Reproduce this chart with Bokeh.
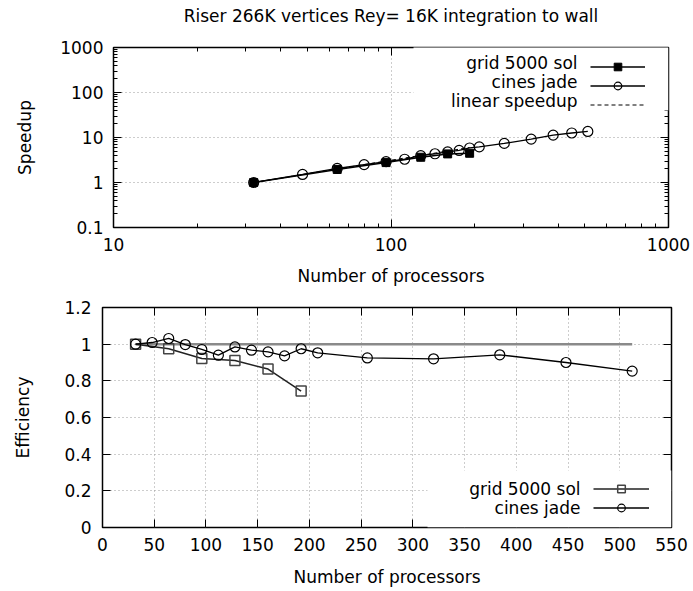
from bokeh.plotting import figure
from bokeh.layouts import column
from bokeh.models import (LogAxis, LinearAxis, FixedTicker, CustomJSTickFormatter,
                          Legend, LegendItem, Label, BoxAnnotation, Range1d, Title)
from bokeh.embed import file_html
from bokeh.resources import INLINE

FONT = "DejaVu Sans"
FS = "17px"

# ---------------- data ----------------
title_text = "Riser 266K vertices Rey= 16K integration to wall"
x_label = "Number of processors"
speedup_label = "Speedup"
eff_label = "Efficiency"

grid_procs = [32, 64, 96, 128, 160, 192]
grid_speedup = [1.0, 1.95, 2.77, 3.64, 4.32, 4.46]
grid_eff = [1.0, 0.975, 0.922, 0.911, 0.864, 0.744]

jade_procs = [32, 48, 64, 80, 96, 112, 128, 144, 160, 176, 192, 208, 256, 320, 384, 448, 512]
jade_speedup = [1.0, 1.51, 2.06, 2.50, 2.91, 3.29, 3.94, 4.35, 4.79, 5.15, 5.85, 6.20,
                7.40, 9.20, 11.30, 12.60, 13.65]
jade_eff = [1.0, 1.009, 1.031, 0.998, 0.971, 0.94, 0.985, 0.967, 0.958, 0.936, 0.975,
            0.953, 0.925, 0.92, 0.942, 0.90, 0.853]

linear_procs = [32, 192]
linear_speedup = [1, 6]
ideal_procs = [32, 512]
ideal_eff = [1, 1]

legend_names = ["grid 5000 sol", "cines jade", "linear speedup"]

speedup_xticks = [10, 100, 1000]
speedup_yticks = [0.1, 1, 10, 100, 1000]
eff_xticks = [0, 50, 100, 150, 200, 250, 300, 350, 400, 450, 500, 550]
eff_yticks = [0, 0.2, 0.4, 0.6, 0.8, 1.0, 1.2]


def log_minors(majors):
    out = []
    for m in majors[:-1]:
        for k in range(2, 10):
            out.append(m * k)
    return out


FMT = "return String(Math.round(tick*1000)/1000);"


def style_axis(ax, ticks, minor, labels=True):
    ax.ticker = FixedTicker(ticks=ticks, minor_ticks=minor)
    ax.formatter = CustomJSTickFormatter(code=FMT)
    ax.axis_line_color = None
    ax.major_tick_in = 8
    ax.major_tick_out = 0
    ax.minor_tick_in = 4
    ax.minor_tick_out = 0
    ax.major_tick_line_color = "black"
    ax.minor_tick_line_color = "black"
    ax.major_tick_line_width = 1
    ax.minor_tick_line_width = 1
    ax.major_label_text_font = FONT
    ax.axis_label_text_font = FONT
    ax.axis_label_text_font_size = FS
    ax.axis_label_text_font_style = "normal"
    ax.axis_label_text_color = "black"
    if labels:
        ax.major_label_text_font_size = FS
        ax.major_label_text_color = "black"
    else:
        ax.major_label_text_font_size = "1px"
        ax.major_label_text_color = None
        ax.major_label_standoff = 0


def style_fig(p):
    p.outline_line_color = "black"
    p.outline_line_width = 1.5
    p.background_fill_color = "white"
    p.border_fill_color = "white"
    for g in (p.xgrid[0], p.ygrid[0]):
        g.grid_line_color = "#9a9a9a"
        g.grid_line_dash = "1 3"
        g.grid_line_width = 1


# ---------------- speedup (log-log) ----------------
# column() aligns plot frames, so both plots share borders; p1 is shifted by a margin
p1 = figure(width=679, height=292, x_axis_type="log", y_axis_type="log",
            x_range=Range1d(10, 1000), y_range=Range1d(0.1, 1000),
            output_backend="svg", toolbar_location=None,
            min_border_left=102, min_border_right=22, min_border_top=43, min_border_bottom=65)
p1.margin = (0, 0, 0, 11)

style_axis(p1.xaxis[0], speedup_xticks, log_minors(speedup_xticks))
style_axis(p1.yaxis[0], speedup_yticks, log_minors(speedup_yticks))
p1.xaxis[0].axis_label = x_label
p1.yaxis[0].axis_label = speedup_label
p1.xaxis[0].major_label_standoff = 10
p1.yaxis[0].major_label_standoff = 10
p1.xaxis[0].axis_label_standoff = 12
p1.yaxis[0].axis_label_standoff = 22
ax_r = LogAxis()
style_axis(ax_r, speedup_yticks, log_minors(speedup_yticks), labels=False)
p1.add_layout(ax_r, "right")
ax_t = LogAxis()
style_axis(ax_t, speedup_xticks, log_minors(speedup_xticks), labels=False)
p1.add_layout(ax_t, "above")
style_fig(p1)

# trailing empty line lifts the title towards the top edge
p1.add_layout(Title(text=title_text + "\n", align="center", text_font=FONT,
                    text_font_size=FS, text_font_style="normal", text_color="black",
                    text_line_height=0.95, standoff=6), "above")

lin1 = p1.line(linear_procs, linear_speedup, line_color="black", line_width=1, line_dash="4 3")
gl1 = p1.line(grid_procs, grid_speedup, line_color="black", line_width=1.5)
gs1 = p1.scatter(grid_procs, grid_speedup, marker="square", size=8,
                 fill_color="black", line_color="black")
jl1 = p1.line(jade_procs, jade_speedup, line_color="black", line_width=1.3)
js1 = p1.scatter(jade_procs, jade_speedup, marker="circle", size=10,
                 fill_color=None, line_color="black", line_width=1.2)

p1.add_layout(BoxAnnotation(left=300, right=555, bottom=117, top=184,
                            left_units="screen", right_units="screen",
                            bottom_units="screen", top_units="screen",
                            fill_color="white", fill_alpha=1, line_color=None))
leg1 = Legend(items=[LegendItem(label=" ", renderers=[gl1, gs1]),
                     LegendItem(label=" ", renderers=[jl1, js1]),
                     LegendItem(label=" ", renderers=[lin1])],
              location="top_right", margin=10, padding=0, spacing=0,
              glyph_width=55, glyph_height=19, label_width=13, label_height=19,
              label_standoff=0, border_line_color=None,
              background_fill_color="white", background_fill_alpha=1,
              label_text_font=FONT, label_text_font_size=FS)
p1.add_layout(leg1)
for name, yy in zip(legend_names, [165, 146, 127]):
    p1.add_layout(Label(x=464, y=yy, x_units="screen", y_units="screen", text=name,
                        text_align="right", text_baseline="middle",
                        text_font=FONT, text_font_size=FS, text_color="black"))

# ---------------- efficiency ----------------
p2 = figure(width=693, height=299, x_range=Range1d(0, 550), y_range=Range1d(0, 1.2),
            output_backend="svg", toolbar_location=None,
            min_border_left=102, min_border_right=22, min_border_top=15, min_border_bottom=64)
style_axis(p2.xaxis[0], eff_xticks, [])
style_axis(p2.yaxis[0], eff_yticks, [])
p2.xaxis[0].axis_label = x_label
p2.yaxis[0].axis_label = eff_label
p2.xaxis[0].major_label_standoff = 10
p2.yaxis[0].major_label_standoff = 11
p2.xaxis[0].axis_label_standoff = 13
p2.yaxis[0].axis_label_standoff = 28
ax_r2 = LinearAxis()
style_axis(ax_r2, eff_yticks, [], labels=False)
p2.add_layout(ax_r2, "right")
ax_t2 = LinearAxis()
style_axis(ax_t2, eff_xticks, [], labels=False)
p2.add_layout(ax_t2, "above")
style_fig(p2)

p2.line(ideal_procs, ideal_eff, line_color="#8a8a8a", line_width=2.5)
gl2 = p2.line(grid_procs, grid_eff, line_color="#222222", line_width=1.5)
gs2 = p2.scatter(grid_procs, grid_eff, marker="square", size=10,
                 fill_color=None, line_color="#444444", line_width=1.5)
jl2 = p2.line(jade_procs, jade_eff, line_color="black", line_width=1.3)
js2 = p2.scatter(jade_procs, jade_eff, marker="circle", size=10,
                 fill_color=None, line_color="black", line_width=1.2)

p2.add_layout(BoxAnnotation(left=325, right=569, bottom=0, top=57,
                            left_units="screen", right_units="screen",
                            bottom_units="screen", top_units="screen",
                            fill_color="white", fill_alpha=1, line_color=None))
leg2 = Legend(items=[LegendItem(label=" ", renderers=[gl2, gs2]),
                     LegendItem(label=" ", renderers=[jl2, js2])],
              location="bottom_right", margin=10, padding=0, spacing=0,
              glyph_width=56, glyph_height=19, label_width=12, label_height=19,
              label_standoff=0, border_line_color=None,
              background_fill_color="white", background_fill_alpha=1,
              label_text_font=FONT, label_text_font_size=FS)
p2.add_layout(leg2)
for name, yy in zip(legend_names[:2], [39, 20]):
    p2.add_layout(Label(x=478, y=yy, x_units="screen", y_units="screen", text=name,
                        text_align="right", text_baseline="middle",
                        text_font=FONT, text_font_size=FS, text_color="black"))

layout = column(p1, p2, spacing=0)
open("out.html", "w").write(file_html(layout, INLINE))
